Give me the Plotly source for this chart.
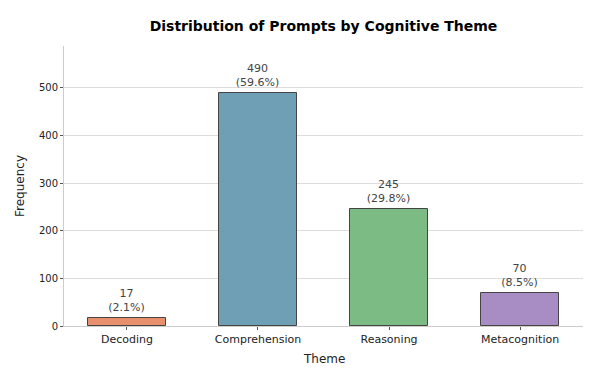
import plotly.graph_objects as go

themes = ["Decoding", "Comprehension", "Reasoning", "Metacognition"]
counts = [17, 490, 245, 70]
percents = [2.1, 59.6, 29.8, 8.5]
colors = ["#E8906E", "#6F9FB5", "#7DBB84", "#A88DC4"]
yticks = [0, 100, 200, 300, 400, 500]

labels = [f"{c}<br>({p}%)" for c, p in zip(counts, percents)]

fig = go.Figure()
fig.add_trace(go.Bar(
    x=list(range(len(themes))), y=counts, width=0.6,
    marker=dict(color=colors, line=dict(color="#444444", width=1)),
    text=labels, textposition="outside", cliponaxis=False,
    textfont=dict(family="DejaVu Sans", size=11, color="#444444"),
))

font = "DejaVu Sans"
fig.update_layout(
    width=599, height=373,
    margin=dict(l=64, r=16, t=46, b=47, autoexpand=False),
    plot_bgcolor="white", paper_bgcolor="white",
    title=dict(text="<b>Distribution of Prompts by Cognitive Theme</b>", x=0.5, xanchor="center",
               xref="paper", y=1 - 26 / 373, yref="container", yanchor="middle",
               font=dict(family=font, size=14, color="black")),
    showlegend=False, bargap=0,
    xaxis=dict(range=[-0.48, 3.48], tickmode="array", tickvals=list(range(len(themes))), ticktext=themes,
               showgrid=False, showline=True, linecolor="#cccccc", linewidth=1,
               ticks="outside", ticklen=3, tickcolor="#555555", automargin=False,
               tickfont=dict(family=font, size=11, color="#222222"),
               zeroline=False),
    yaxis=dict(range=[0, 588], tickmode="array", tickvals=yticks,
               showgrid=True, gridcolor="#dddddd", gridwidth=1,
               showline=True, linecolor="#cccccc", linewidth=1,
               ticks="outside", ticklen=3, tickcolor="#555555", automargin=False,
               tickfont=dict(family=font, size=10, color="#222222"),
               zeroline=False),
    annotations=[
        dict(text="Theme", xref="paper", yref="paper", x=0.5, y=-33 / 280, xanchor="center", yanchor="middle",
             showarrow=False, font=dict(family=font, size=12, color="#222222")),
        dict(text="Frequency", xref="paper", yref="paper", x=-44 / 519, y=0.5, xanchor="center", yanchor="middle",
             textangle=-90, showarrow=False, font=dict(family=font, size=12, color="#222222")),
    ],
)
fig.write_html("out.html")
